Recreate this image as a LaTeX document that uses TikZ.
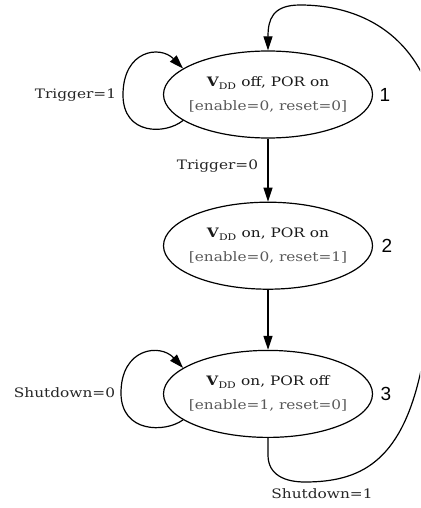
\documentclass[tikz,border=0pt]{standalone}
\usepackage{fontspec}
\setmainfont[FakeStretch=1.18]{DejaVu Serif}
\newfontfamily\numfont{Liberation Sans}
\usetikzlibrary{shapes,arrows,arrows.meta,positioning}

\begin{document}
\begin{tikzpicture}[x=1pt,y=-1pt,
  statestyle/.style={ellipse,draw,line width=1.2pt,minimum width=209pt,minimum height=87pt,inner xsep=-7pt,inner ysep=0pt,align=center,text=black!90,font=\fontsize{13}{24}\selectfont},
  numstyle/.style={font=\numfont\fontsize{19}{19}\selectfont},
  edgestyle/.style={line width=1.2pt,-{Triangle[length=14pt,width=9pt]}},
  lblstyle/.style={text=black!85,font=\fontsize{13}{15}\selectfont}]
\useasboundingbox (0,0) rectangle (420,508);
\clip (0,0) rectangle (420,508);
% states
\node[statestyle] (st1) at (268,94.5) {\textbf{V}\textsubscript{DD} off, POR on\\ \textcolor{black!65}{[enable=0, reset=0]}};
\node[statestyle,below=63pt of st1] (st2) {\textbf{V}\textsubscript{DD} on, POR on\\ \textcolor{black!65}{[enable=0, reset=1]}};
\node[statestyle,below=60pt of st2] (st3) {\textbf{V}\textsubscript{DD} on, POR off\\ \textcolor{black!65}{[enable=1, reset=0]}};
\node[numstyle,right=3pt of st1] (n1) {1};
\node[numstyle,right=5pt of st2] (n2) {2};
\node[numstyle,right=4pt of st3] (n3) {3};
% transitions
\draw[edgestyle] (st1) -- node[lblstyle,left=6pt,pos=0.43]{Trigger=0} (st2);
\draw[edgestyle] (st2) -- (st3);
\draw[edgestyle] (st1.197) .. controls (165,135) and (123,135) .. (123,95) node[lblstyle,left=3pt]{Trigger=1}
  .. controls (123,50) and (160,45) .. (st1.163);
\draw[edgestyle] (st3.197) .. controls (165,433) and (121,433) .. (121,393) node[lblstyle,left=2pt]{Shutdown=0}
  .. controls (121,348) and (160,343) .. (st3.163);
\draw[edgestyle] (st3.south) -- (268,455) .. controls (268,475) and (285,482) .. (305,482)
  node[lblstyle,below=3pt,xshift=17pt]{Shutdown=1}
  .. controls (360,482) and (400,462) .. (420,375) .. controls (436,305) and (445,118) .. (420,70)
  .. controls (395,25) and (350,5) .. (300,5) .. controls (272,5) and (268,20) .. (st1.north);
\end{tikzpicture}
\end{document}
